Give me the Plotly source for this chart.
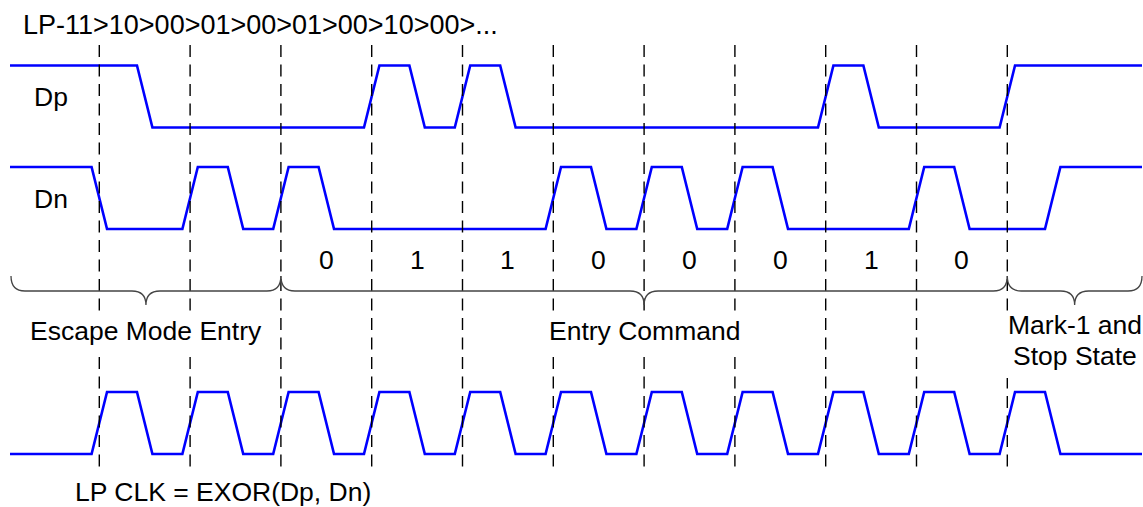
import plotly.graph_objects as go

# ---------------- data ----------------
TITLE = "LP-11>10>00>01>00>01>00>10>00>..."
# time unit = one bit period; dashed markers at integer times
MARKERS = [0, 1, 2, 3, 4, 5, 6, 7, 8, 9, 10]
DP_INIT = 1
DP_TOGGLES = [0.5, 3, 3.5, 4, 4.5, 8, 8.5, 10]
DN_INIT = 1
DN_TOGGLES = [0, 1, 1.5, 2, 2.5, 5, 5.5, 6, 6.5, 7, 7.5, 9, 9.5, 10.5]
CLK_INIT = 0
CLK_TOGGLES = [0, 0.5, 1, 1.5, 2, 2.5, 3, 3.5, 4, 4.5, 5, 5.5, 6, 6.5, 7, 7.5,
               8, 8.5, 9, 9.5, 10, 10.5]
BIT_TIMES = [2.5, 3.5, 4.5, 5.5, 6.5, 7.5, 8.5, 9.5]
BITS = ["0", "1", "1", "0", "0", "0", "1", "0"]
GROUPS = ["Escape Mode Entry", "Entry Command", "Mark-1 and|Stop State"]

# ---------------- layout constants ----------------
W, H = 1143, 507
X0, P = 99.3, 90.8          # pixel of t=0, pixels per period
T_MIN = (0 - X0) / P
T_MAX = (W - X0) / P
T_START = (10 - X0) / P
T_END = (1142 - X0) / P
RAMP = 0.17
AMP = 62
BLUE = "#0000FF"
FONT = "Liberation Sans, Arial, sans-serif"
FS = 26.5


def tp(px):
    return (px - X0) / P


def wave(init, toggles, low_y):
    xs, ys = [T_START], [low_y - init * AMP]
    lvl = init
    for t in toggles:
        xs.append(t - RAMP / 2); ys.append(low_y - lvl * AMP)
        lvl = 1 - lvl
        xs.append(t + RAMP / 2); ys.append(low_y - lvl * AMP)
    xs.append(T_END); ys.append(low_y - lvl * AMP)
    return xs, ys


fig = go.Figure()
for name, init, tog, low in [("Dp", DP_INIT, DP_TOGGLES, 127.5),
                             ("Dn", DN_INIT, DN_TOGGLES, 229),
                             ("LP CLK", CLK_INIT, CLK_TOGGLES, 454)]:
    xs, ys = wave(init, tog, low)
    fig.add_trace(go.Scatter(x=xs, y=ys, mode="lines", name=name,
                             line=dict(color=BLUE, width=2.6),
                             hoverinfo="skip", showlegend=False))

shapes = []
for m in MARKERS:
    shapes.append(dict(type="line", xref="x", yref="y", x0=m, x1=m, y0=45, y1=469,
                       line=dict(color="black", width=1.4, dash="12px,7.5px")))

# white backgrounds behind the group labels (they hide the dashed markers)
for px0, px1, y0, y1 in [(27, 266, 312, 352), (545, 743, 312, 352), (1003, 1143, 312, 378)]:
    shapes.append(dict(type="rect", xref="x", yref="y", x0=tp(px0), x1=tp(px1),
                       y0=y0, y1=y1, fillcolor="white", line=dict(width=0)))


def brace(t0, t1, tip, y_line=291, y_end=276, y_tip=305, r_px=14):
    r = r_px / P
    return (f"M {t0},{y_end} Q {t0},{y_line} {t0 + r},{y_line} "
            f"L {tip - r},{y_line} Q {tip},{y_line} {tip},{y_tip} "
            f"Q {tip},{y_line} {tip + r},{y_line} L {t1 - r},{y_line} "
            f"Q {t1},{y_line} {t1},{y_end}")


brace_spans = [(tp(11), 2), (2, 10), (10, tp(1142))]
for a, b in brace_spans:
    shapes.append(dict(type="path", xref="x", yref="y", path=brace(a, b, (a + b) / 2),
                       line=dict(color="#444444", width=1.3)))

ann = []


def txt(x, y, s, xanchor="center", size=FS):
    ann.append(dict(x=x, y=y, xref="x", yref="y", text=s, showarrow=False,
                    xanchor=xanchor, yanchor="middle",
                    font=dict(family=FONT, size=size, color="black")))


txt(tp(21), 25, TITLE, xanchor="left", size=27)
txt(tp(51), 97, "Dp")
txt(tp(51), 199, "Dn")
for t, b in zip(BIT_TIMES, BITS):
    txt(t, 260, b)
for (a, b), g in zip(brace_spans, GROUPS):
    lines = g.split("|")
    if len(lines) == 1:
        txt((a + b) / 2, 331, lines[0])
    else:
        txt((a + b) / 2, 325, lines[0])
        txt((a + b) / 2, 356, lines[1])
txt(tp(73), 491.5, "LP CLK = EXOR(Dp, Dn)", xanchor="left")

fig.update_layout(
    width=W, height=H, margin=dict(l=0, r=0, t=0, b=0),
    paper_bgcolor="white", plot_bgcolor="white",
    xaxis=dict(range=[T_MIN, T_MAX], visible=False, fixedrange=True),
    yaxis=dict(range=[H, 0], visible=False, fixedrange=True),
    shapes=shapes, annotations=ann,
)
fig.write_html("out.html", config={"displayModeBar": False},
               post_script="document.body.style.margin='0px';document.body.style.padding='0px';")
